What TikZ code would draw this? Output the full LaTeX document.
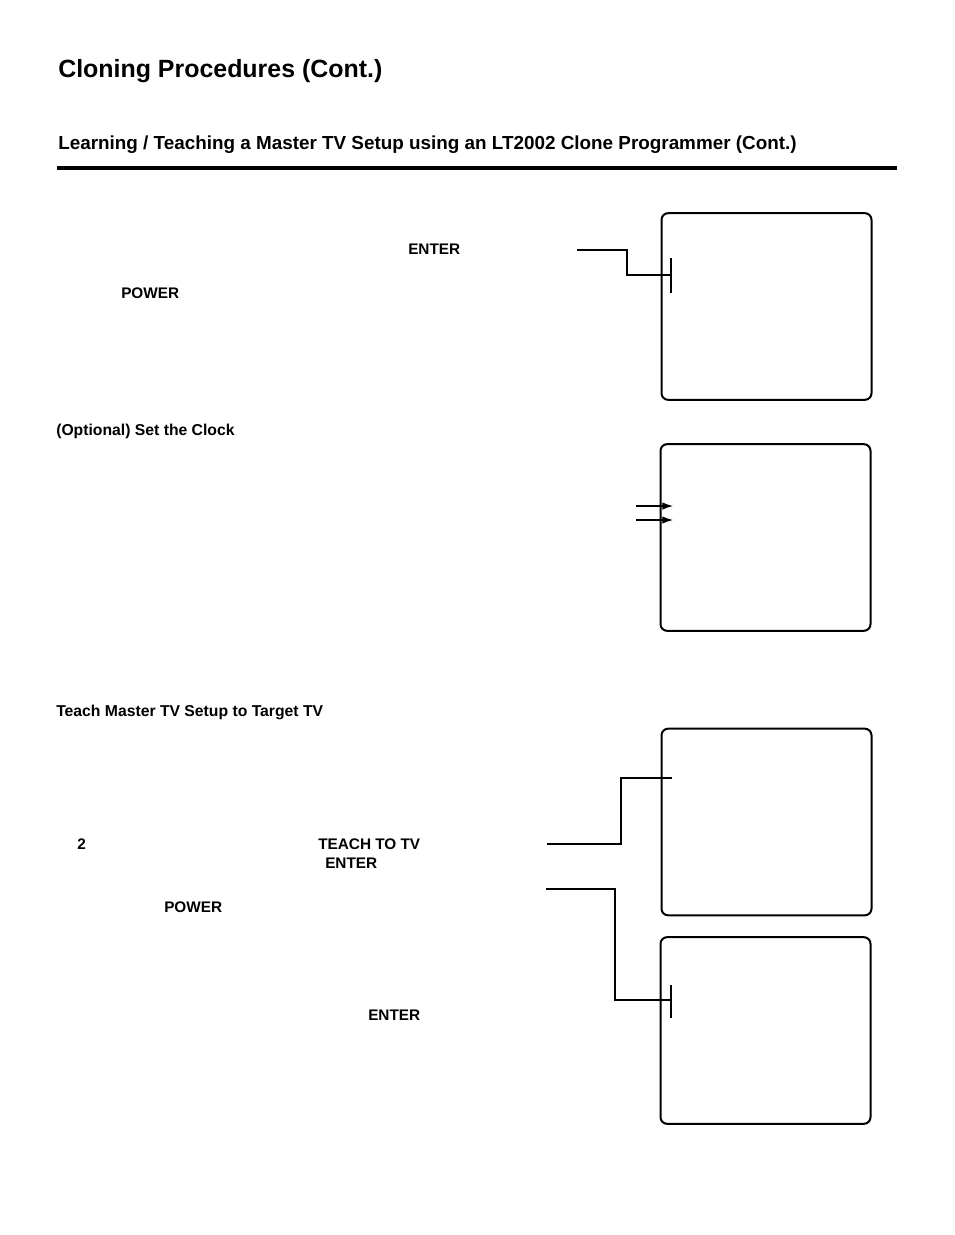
\documentclass[tikz,border=0pt]{standalone}
\usepackage{fontspec}
\setmainfont{Liberation Sans}
\usetikzlibrary{arrows.meta}

\begin{document}
\begin{tikzpicture}[x=0.75pt,y=-0.75pt,
    screen/.style={draw,line width=1.5pt,rounded corners=5pt,minimum width=157.5pt,minimum height=140pt,inner sep=0pt},
    lbl/.style={anchor=base west,inner sep=0pt,font=\bfseries\fontsize{11.5}{13}\selectfont},
    lead/.style={line width=0.8pt}]
    \useasboundingbox (0,0) rectangle (954,1235);
    % headings
    \node[lbl,font=\bfseries\fontsize{18.7}{22}\selectfont] (title) at (58,77) {Cloning Procedures (Cont.)};
    \node[lbl,font=\bfseries\fontsize{14.15}{17}\selectfont] (sub) at (58,149) {Learning / Teaching a Master TV Setup using an LT2002 Clone Programmer (Cont.)};
    \draw[line width=2.3pt] (57,168) -- (897,168);
    % text labels
    \node[lbl] (enter1) at (408,254) {ENTER};
    \node[lbl] (power1) at (121,298) {POWER};
    \node[lbl,font=\bfseries\fontsize{11.8}{13}\selectfont] (clock) at (56,435) {(Optional) Set the Clock};
    \node[lbl,font=\bfseries\fontsize{11.8}{13}\selectfont] (teach) at (56,716) {Teach Master TV Setup to Target TV};
    \node[lbl] (two) at (77,849) {2};
    \node[lbl] (teachtv) at (318,849) {TEACH TO TV};
    \node[lbl] (enter2) at (325,868) {ENTER};
    \node[lbl] (power2) at (164,912) {POWER};
    \node[lbl] (enter3) at (368,1020) {ENTER};
    % screens
    \node[screen] (scr1) at (766.5,306.5) {};
    \node[screen] (scr2) at (765.5,537.5) {};
    \node[screen] (scr3) at (766.5,822) {};
    \node[screen] (scr4) at (765.5,1030.5) {};
    % leaders
    \coordinate (a1) at (577,250);
    \coordinate (a2) at (671,275);
    \draw[lead] (a1) -- (627,250) |- (a2);
    \draw[lead] (671,258) -- (671,293);
    \coordinate (b1) at (636,506);
    \coordinate (b2) at (673,506);
    \coordinate (c1) at (636,520);
    \coordinate (c2) at (673,520);
    \draw[lead,-{Latex[length=8pt,width=5.5pt]}] (b1) -- (b2);
    \draw[lead,-{Latex[length=8pt,width=5.5pt]}] (c1) -- (c2);
    \coordinate (d1) at (547,844);
    \coordinate (d2) at (672,778);
    \draw[lead] (d1) -- (621,844) |- (d2);
    \coordinate (e1) at (546,889);
    \coordinate (e2) at (671,1000);
    \draw[lead] (e1) -- (615,889) |- (e2);
    \draw[lead] (671,985) -- (671,1018);
\end{tikzpicture}
\end{document}
